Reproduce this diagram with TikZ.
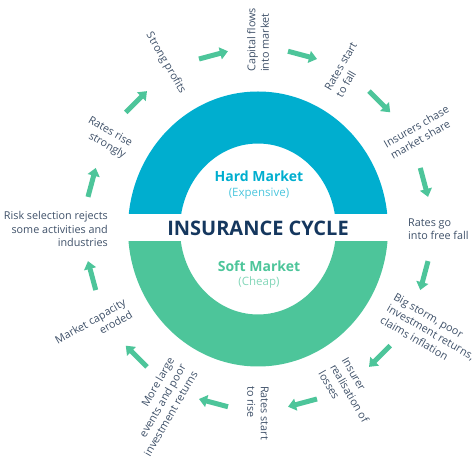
\documentclass[tikz,border=0pt]{standalone}
\usepackage{fontspec}
\setmainfont{Open Sans}
\usetikzlibrary{arrows.meta,calc}
\definecolor{hardblue}{HTML}{00AECF}
\definecolor{softgreen}{HTML}{4DC59A}
\definecolor{navy}{HTML}{15375E}
\definecolor{slate}{HTML}{3E5068}
\tikzset{lbl/.style={text=slate,font=\fontsize{10.8}{13.5}\selectfont,inner sep=0pt},
  cyc/.style={softgreen,line width=5pt,-{Triangle[length=8pt,width=12pt]}}}

\begin{document}
\begin{tikzpicture}[x=1pt,y=1pt,line join=round]
\useasboundingbox (-258,-233) rectangle (216,229);
% --- ring: hard market on top, soft market below
\begin{scope}
\clip (-140,15) rectangle (140,140);
\fill[hardblue,even odd rule] (0,0) ellipse (130 and 137.5) (0,0) ellipse (78 and 85.5);
\end{scope}
\begin{scope}
\clip (-140,-13) rectangle (140,-140);
\fill[softgreen,even odd rule] (0,0) ellipse (130 and 137.5) (0,0) ellipse (78 and 85.5);
\end{scope}
\node[font=\bfseries\fontsize{14}{16}\selectfont,text=hardblue] (hard) at (1,53) {Hard Market};
\node[font=\fontsize{11.5}{13}\selectfont,text=hardblue!70] (expensive) at (1,35) {(Expensive)};
\node[font=\bfseries\fontsize{20}{24}\selectfont,text=navy] (title) at (0,1) {INSURANCE CYCLE};
\node[font=\bfseries\fontsize{14}{16}\selectfont,text=softgreen] (soft) at (1,-37) {Soft Market};
\node[font=\fontsize{11.5}{13}\selectfont,text=softgreen!70] (cheap) at (1,-54) {(Cheap)};
% --- stages of the cycle, clockwise from the top
\node[lbl,rotate=90,align=left,anchor=west] (capital) at (90:150 and 157) {Capital flows\\into market};
\node[lbl,rotate=60,align=left,anchor=west] (fall) at (60:150 and 157) {Rates start\\to fall};
\node[lbl,rotate=30,align=left,anchor=west] (chase) at (30:150 and 157) {Insurers chase\\market share};
\node[lbl,align=left,anchor=west] (freefall) at (0:150 and 157) {Rates go\\into free fall};
\node[lbl,rotate=-30,align=left,anchor=west] (storm) at (-30:150 and 157) {Big storm, poor\\investment returns,\\claims inflation};
\node[lbl,rotate=-60,align=left,anchor=west] (losses) at (-60:150 and 157) {Insurer\\realisation of\\losses};
\node[lbl,rotate=-90,align=left,anchor=west] (rise) at (-90:150 and 157) {Rates start\\to rise};
\node[lbl,rotate=60,align=right,anchor=east] (events) at (-120:150 and 157) {More large\\events and poor\\investment returns};
\node[lbl,rotate=30,align=right,anchor=east] (capacity) at (-150:150 and 157) {Market capacity\\eroded};
\node[lbl,align=right,anchor=east] (risk) at (180:150 and 157) {Risk selection rejects\\some activities and\\industries};
\node[lbl,rotate=-30,align=right,anchor=east] (strongly) at (150:150 and 157) {Rates rise\\strongly};
\node[lbl,rotate=-60,anchor=east] (profits) at (120:150 and 157) {Strong profits};
% --- arrows between the stages
\foreach \a in {105,75,...,-225} {
  \coordinate (m\a) at (\a:172 and 180);
  \coordinate (s\a) at ($(m\a)+(\a+90:15)$);
  \coordinate (e\a) at ($(m\a)+(\a-90:15)$);
  \draw[cyc] (s\a) -- (e\a);
}
\end{tikzpicture}
\end{document}
